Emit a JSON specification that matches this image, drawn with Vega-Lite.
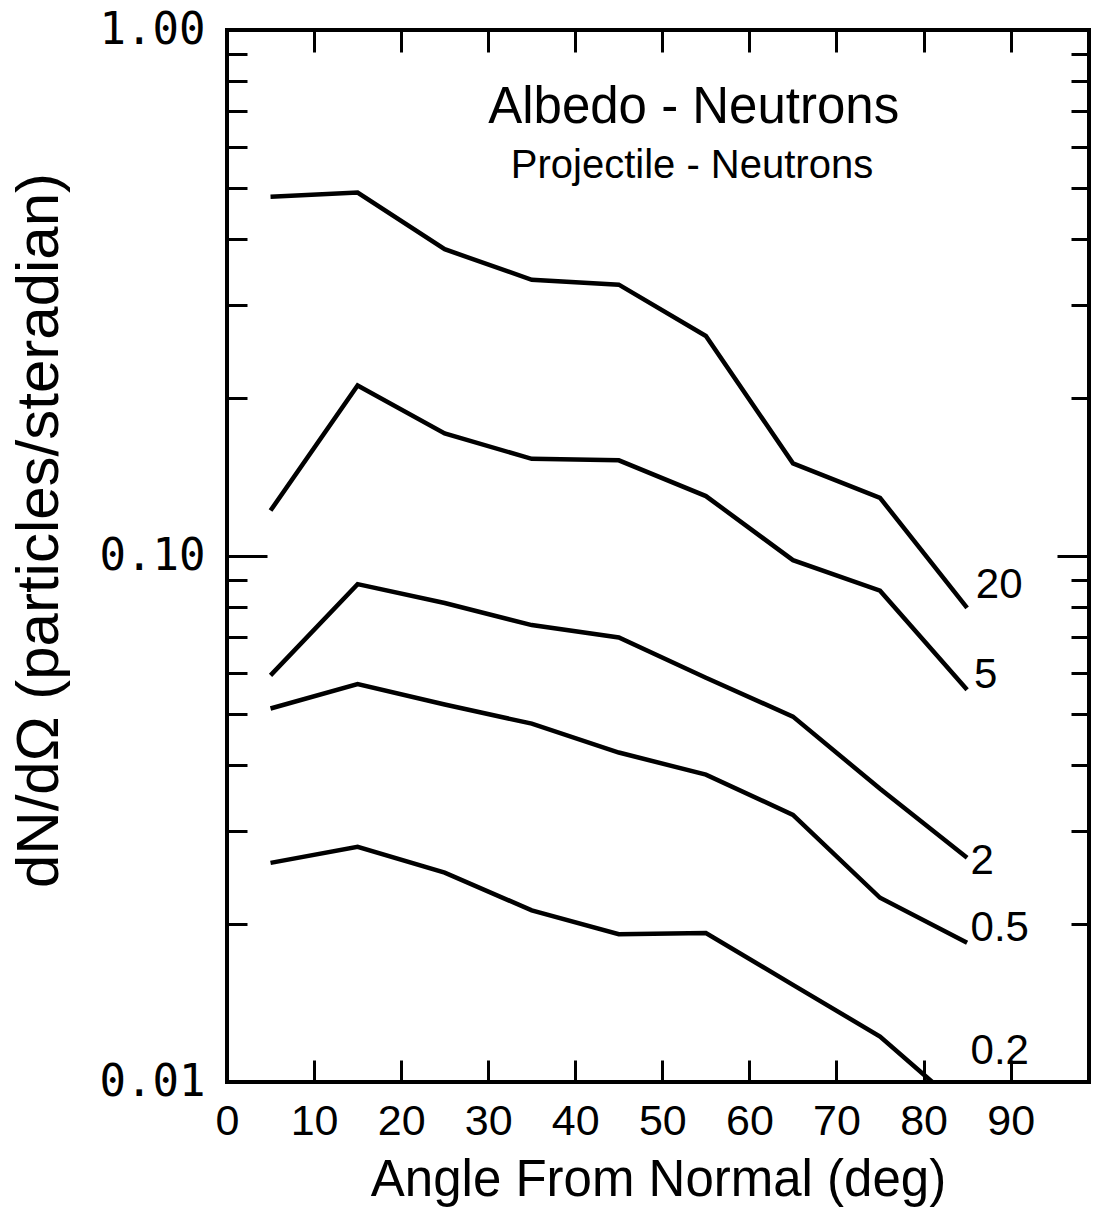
{
  "$schema": "https://vega.github.io/schema/vega-lite/v6.json",
  "width": 862,
  "height": 1052,
  "autosize": {"type": "none"},
  "padding": {"left": 227, "top": 30, "right": 4, "bottom": 130},
  "background": "white",
  "config": {
    "view": {"stroke": "black", "strokeWidth": 4},
    "font": "Liberation Sans",
    "axis": {
      "domain": false,
      "grid": false,
      "tickColor": "black",
      "tickWidth": 3,
      "labelColor": "black",
      "titleColor": "black",
      "labelFont": "Liberation Sans",
      "titleFont": "Liberation Sans",
      "titleFontWeight": "normal",
      "labelFlush": false,
      "labelOverlap": false
    }
  },
  "datasets": {
    "curves": [
      {"energy": "20", "angle": 5, "dNdOmega": 0.482},
      {"energy": "20", "angle": 15, "dNdOmega": 0.491},
      {"energy": "20", "angle": 25, "dNdOmega": 0.383},
      {"energy": "20", "angle": 35, "dNdOmega": 0.335},
      {"energy": "20", "angle": 45, "dNdOmega": 0.328},
      {"energy": "20", "angle": 55, "dNdOmega": 0.262},
      {"energy": "20", "angle": 65, "dNdOmega": 0.150},
      {"energy": "20", "angle": 75, "dNdOmega": 0.129},
      {"energy": "20", "angle": 85, "dNdOmega": 0.0797},
      {"energy": "5", "angle": 5, "dNdOmega": 0.122},
      {"energy": "5", "angle": 15, "dNdOmega": 0.211},
      {"energy": "5", "angle": 25, "dNdOmega": 0.171},
      {"energy": "5", "angle": 35, "dNdOmega": 0.153},
      {"energy": "5", "angle": 45, "dNdOmega": 0.152},
      {"energy": "5", "angle": 55, "dNdOmega": 0.130},
      {"energy": "5", "angle": 65, "dNdOmega": 0.0982},
      {"energy": "5", "angle": 75, "dNdOmega": 0.0859},
      {"energy": "5", "angle": 85, "dNdOmega": 0.0557},
      {"energy": "2", "angle": 5, "dNdOmega": 0.0593},
      {"energy": "2", "angle": 15, "dNdOmega": 0.0884},
      {"energy": "2", "angle": 25, "dNdOmega": 0.0814},
      {"energy": "2", "angle": 35, "dNdOmega": 0.0739},
      {"energy": "2", "angle": 45, "dNdOmega": 0.0700},
      {"energy": "2", "angle": 55, "dNdOmega": 0.0587},
      {"energy": "2", "angle": 65, "dNdOmega": 0.0495},
      {"energy": "2", "angle": 75, "dNdOmega": 0.0361},
      {"energy": "2", "angle": 85, "dNdOmega": 0.0267},
      {"energy": "0.5", "angle": 5, "dNdOmega": 0.0513},
      {"energy": "0.5", "angle": 15, "dNdOmega": 0.0571},
      {"energy": "0.5", "angle": 25, "dNdOmega": 0.0522},
      {"energy": "0.5", "angle": 35, "dNdOmega": 0.0480},
      {"energy": "0.5", "angle": 45, "dNdOmega": 0.0423},
      {"energy": "0.5", "angle": 55, "dNdOmega": 0.0384},
      {"energy": "0.5", "angle": 65, "dNdOmega": 0.0322},
      {"energy": "0.5", "angle": 75, "dNdOmega": 0.0224},
      {"energy": "0.5", "angle": 85, "dNdOmega": 0.0184},
      {"energy": "0.2", "angle": 5, "dNdOmega": 0.0261},
      {"energy": "0.2", "angle": 15, "dNdOmega": 0.0280},
      {"energy": "0.2", "angle": 25, "dNdOmega": 0.0250},
      {"energy": "0.2", "angle": 35, "dNdOmega": 0.0212},
      {"energy": "0.2", "angle": 45, "dNdOmega": 0.0191},
      {"energy": "0.2", "angle": 55, "dNdOmega": 0.0192},
      {"energy": "0.2", "angle": 65, "dNdOmega": 0.0153},
      {"energy": "0.2", "angle": 75, "dNdOmega": 0.0122},
      {"energy": "0.2", "angle": 81, "dNdOmega": 0.0100}
    ],
    "curveLabels": [
      {"label": "20", "angle": 86.0, "dNdOmega": 0.0882},
      {"label": "5", "angle": 85.8, "dNdOmega": 0.0595},
      {"label": "2", "angle": 85.4, "dNdOmega": 0.0263},
      {"label": "0.5", "angle": 85.4, "dNdOmega": 0.0196},
      {"label": "0.2", "angle": 85.4, "dNdOmega": 0.01144}
    ],
    "heading": [
      {"text": "Albedo - Neutrons", "angle": 53.6, "dNdOmega": 0.665}
    ],
    "subheading": [
      {"text": "Projectile - Neutrons", "angle": 53.4, "dNdOmega": 0.523}
    ]
  },
  "layer": [
    {
      "data": {"name": "curves"},
      "mark": {"type": "line", "color": "black", "strokeWidth": 4.5, "strokeJoin": "miter"},
      "encoding": {
        "x": {
          "field": "angle", "type": "quantitative",
          "scale": {"domain": [0, 99], "nice": false},
          "axis": {
            "orient": "bottom",
            "values": [0, 10, 20, 30, 40, 50, 60, 70, 80, 90],
            "tickSize": -22,
            "labelFontSize": 43,
            "labelPadding": 40,
            "title": "Angle From Normal (deg)",
            "titleFontSize": 51,
            "titlePadding": 12
          }
        },
        "y": {
          "field": "dNdOmega", "type": "quantitative",
          "scale": {"type": "log", "domain": [0.01, 1], "nice": false},
          "axis": {
            "orient": "left",
            "values": [0.01, 0.02, 0.03, 0.04, 0.05, 0.06, 0.07, 0.08, 0.09, 0.1, 0.2, 0.3, 0.4, 0.5, 0.6, 0.7, 0.8, 0.9, 1],
            "tickSize": {"condition": {"test": "datum.value == 0.1", "value": -40}, "value": -20},
            "labelPadding": {"condition": {"test": "datum.value == 0.1", "value": 62}, "value": 42},
            "labelExpr": "datum.value == 1 ? '1.00' : datum.value == 0.1 ? '0.10' : datum.value == 0.01 ? '0.01' : ''",
            "labelFont": "DejaVu Sans Mono",
            "labelFontSize": 44,
            "title": "dN/dΩ (particles/steradian)",
            "titleFontSize": 60,
            "titleX": -157,
            "titleY": 500
          }
        },
        "detail": {"field": "energy", "type": "nominal"}
      }
    },
    {
      "data": {"name": "curveLabels"},
      "mark": {"type": "text", "align": "left", "baseline": "middle", "fontSize": 42, "color": "black"},
      "encoding": {
        "x": {
          "field": "angle", "type": "quantitative",
          "scale": {"domain": [0, 99], "nice": false},
          "axis": {
            "orient": "top",
            "values": [10, 20, 30, 40, 50, 60, 70, 80, 90],
            "tickSize": -22,
            "labels": false,
            "title": null
          }
        },
        "y": {
          "field": "dNdOmega", "type": "quantitative",
          "scale": {"type": "log", "domain": [0.01, 1], "nice": false},
          "axis": {
            "orient": "right",
            "values": [0.02, 0.03, 0.04, 0.05, 0.06, 0.07, 0.08, 0.09, 0.1, 0.2, 0.3, 0.4, 0.5, 0.6, 0.7, 0.8, 0.9],
            "tickSize": {"condition": {"test": "datum.value == 0.1", "value": -32}, "value": -18},
            "labels": false,
            "title": null
          }
        },
        "text": {"field": "label"}
      }
    },
    {
      "data": {"name": "heading"},
      "mark": {"type": "text", "align": "center", "baseline": "alphabetic", "fontSize": 51, "color": "black"},
      "encoding": {
        "x": {"field": "angle", "type": "quantitative", "scale": {"domain": [0, 99], "nice": false}, "axis": null},
        "y": {"field": "dNdOmega", "type": "quantitative", "scale": {"type": "log", "domain": [0.01, 1], "nice": false}, "axis": null},
        "text": {"field": "text"}
      }
    },
    {
      "data": {"name": "subheading"},
      "mark": {"type": "text", "align": "center", "baseline": "alphabetic", "fontSize": 40, "color": "black"},
      "encoding": {
        "x": {"field": "angle", "type": "quantitative", "scale": {"domain": [0, 99], "nice": false}, "axis": null},
        "y": {"field": "dNdOmega", "type": "quantitative", "scale": {"type": "log", "domain": [0.01, 1], "nice": false}, "axis": null},
        "text": {"field": "text"}
      }
    }
  ],
  "resolve": {"axis": {"x": "independent", "y": "independent"}}
}
